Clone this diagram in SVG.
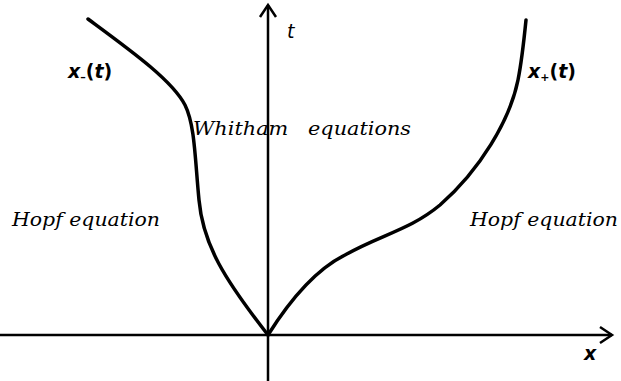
<svg xmlns="http://www.w3.org/2000/svg" width="621" height="381" viewBox="0 0 621 381">
<style>
.ax{stroke:#000;stroke-width:2.5;fill:none}
.cv{stroke:#000;stroke-width:3.5;fill:none;stroke-linecap:round;stroke-linejoin:round}
.lab{font-family:"DejaVu Serif","Liberation Serif",serif;font-style:italic;font-size:19px;fill:#000}
.var{font-family:"DejaVu Sans","Liberation Sans",sans-serif;font-size:19px;fill:#000}
.bold{font-weight:bold}
</style>
<rect width="621" height="381" fill="#fff"/>
<g id="axes">
<line class="ax" x1="268" y1="5" x2="268" y2="381"/>
<polyline class="ax" points="260,17 268,5 276,17"/>
<line class="ax" x1="0" y1="335" x2="612" y2="335"/>
<polyline class="ax" points="600,327 612,335 600,343"/>
</g>
<g id="connectors">
<path id="xminus" class="cv" d="M88,19 C130,50 172,80 185,105 C195,125 195,160 199,200 C203,245 225,280 268,335"/>
<path id="xplus" class="cv" d="M268,335 C290,300 315,270 345,255 C380,235 410,230 440,205 C480,170 510,120 518,80 C522,60 524,40 526,20"/>
</g>
<g id="t-label"><text class="var" x="287" y="38" font-style="italic">t</text></g>
<g id="x-label"><text class="var bold" x="584" y="360" font-style="italic">x</text></g>
<g id="xminus-label"><text class="var bold" x="68" y="78"><tspan font-style="italic">x</tspan><tspan font-size="11" dy="3">–</tspan><tspan dy="-3">(</tspan><tspan font-style="italic">t</tspan>)</text></g>
<g id="xplus-label"><text class="var bold" x="528" y="78"><tspan font-style="italic">x</tspan><tspan font-size="11" dy="3">+</tspan><tspan dy="-3">(</tspan><tspan font-style="italic">t</tspan>)</text></g>
<g id="whitham"><text class="lab" x="193" y="135" textLength="218" lengthAdjust="spacingAndGlyphs" xml:space="preserve">Whitham   equations</text></g>
<g id="hopf-left"><text class="lab" x="12" y="226" textLength="148" lengthAdjust="spacingAndGlyphs">Hopf equation</text></g>
<g id="hopf-right"><text class="lab" x="470" y="226" textLength="148" lengthAdjust="spacingAndGlyphs">Hopf equation</text></g>
</svg>
